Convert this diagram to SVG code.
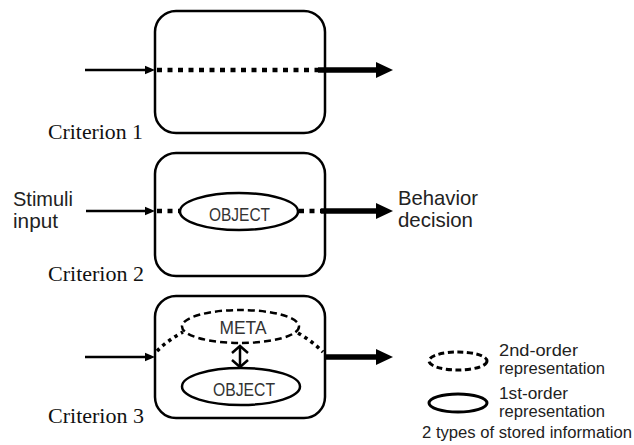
<svg xmlns="http://www.w3.org/2000/svg" width="634" height="445" viewBox="0 0 634 445">
  <style>
    .box { fill: #fff; stroke: #000; stroke-width: 2.5; }
    .ell { fill: #fff; stroke: #000; stroke-width: 2.5; }
    .ell-dash { fill: #fff; stroke: #000; stroke-width: 2.5; stroke-dasharray: 7 4; }
    .crit { font-family: "Liberation Serif", "Times New Roman", serif; font-size: 22px; fill: #111; }
    .lab { font-family: "Liberation Sans", Arial, sans-serif; font-size: 21px; fill: #222; }
    .inner { font-family: "Liberation Sans", Arial, sans-serif; font-size: 18px; fill: #333; }
    .leg { font-family: "Liberation Sans", Arial, sans-serif; font-size: 16px; fill: #222; }
    .thin { stroke: #000; stroke-width: 2.5; fill: none; }
    .thick { stroke: #000; stroke-width: 5.5; fill: none; }
    .dots { stroke: #000; stroke-width: 4.5; fill: none; stroke-dasharray: 5 5.5; }
    .dots-s { stroke: #000; stroke-width: 3.5; fill: none; stroke-dasharray: 3.5 4; }
  </style>
  <defs>
    <marker id="headThin" markerUnits="userSpaceOnUse" markerWidth="10" markerHeight="10" refX="6" refY="5" orient="auto">
      <path d="M0,0.8 L10,5 L0,9.2 z" fill="#000"/>
    </marker>
    <marker id="headThick" markerUnits="userSpaceOnUse" markerWidth="17" markerHeight="17" refX="8" refY="8.5" orient="auto">
      <path d="M0,0.5 L17,8.5 L0,16.5 z" fill="#000"/>
    </marker>
    <marker id="chev" markerUnits="userSpaceOnUse" markerWidth="20" markerHeight="20" refX="10" refY="10" orient="auto-start-reverse">
      <path d="M3,2 L10,10 L3,18" fill="none" stroke="#000" stroke-width="2.5"/>
    </marker>
  </defs>

  <!-- Criterion 1 -->
  <g id="criterion1">
    <rect class="box" x="155" y="11" width="170" height="122" rx="21"/>
    <text class="crit" x="48" y="139" textLength="95" lengthAdjust="spacingAndGlyphs">Criterion 1</text>
  </g>

  <!-- Criterion 2 -->
  <g id="criterion2">
    <rect class="box" x="155" y="153" width="170" height="123" rx="21"/>
    <text class="crit" x="48" y="281" textLength="96" lengthAdjust="spacingAndGlyphs">Criterion 2</text>
  </g>
  <g id="object2">
    <ellipse class="ell" cx="239" cy="211.5" rx="59" ry="18.5"/>
    <text class="inner" x="239.5" y="221" text-anchor="middle" textLength="61" lengthAdjust="spacingAndGlyphs">OBJECT</text>
  </g>

  <!-- Criterion 3 -->
  <g id="criterion3">
    <rect class="box" x="155" y="296" width="170" height="122" rx="21"/>
    <text class="crit" x="48" y="423" textLength="96" lengthAdjust="spacingAndGlyphs">Criterion 3</text>
  </g>
  <g id="meta3">
    <ellipse class="ell-dash" cx="240.5" cy="326.5" rx="58.5" ry="16.5"/>
    <text class="inner" x="243" y="334" text-anchor="middle" textLength="47" lengthAdjust="spacingAndGlyphs">META</text>
  </g>
  <g id="object3">
    <ellipse class="ell" cx="241" cy="386.5" rx="59" ry="18.5"/>
    <text class="inner" x="244" y="396" text-anchor="middle" textLength="62" lengthAdjust="spacingAndGlyphs">OBJECT</text>
  </g>

  <!-- side labels -->
  <g id="stimuli">
    <text class="lab" x="13" y="206" textLength="60" lengthAdjust="spacingAndGlyphs">Stimuli</text>
    <text class="lab" x="13" y="228" textLength="45" lengthAdjust="spacingAndGlyphs">input</text>
  </g>
  <g id="behavior">
    <text class="lab" x="398" y="205" textLength="80" lengthAdjust="spacingAndGlyphs">Behavior</text>
    <text class="lab" x="398" y="227" textLength="75" lengthAdjust="spacingAndGlyphs">decision</text>
  </g>

  <!-- legend -->
  <g id="legend">
    <ellipse cx="458" cy="361" rx="29" ry="9" fill="none" stroke="#000" stroke-width="3" stroke-dasharray="6 3.5"/>
    <ellipse cx="458" cy="403" rx="29" ry="9" fill="none" stroke="#000" stroke-width="3"/>
    <text class="leg" x="499" y="356" textLength="79" lengthAdjust="spacingAndGlyphs">2nd-order</text>
    <text class="leg" x="499" y="374" textLength="106" lengthAdjust="spacingAndGlyphs">representation</text>
    <text class="leg" x="499" y="399" textLength="69" lengthAdjust="spacingAndGlyphs">1st-order</text>
    <text class="leg" x="499" y="417" textLength="106" lengthAdjust="spacingAndGlyphs">representation</text>
    <text class="leg" x="422" y="438" textLength="210" lengthAdjust="spacingAndGlyphs">2 types of stored information</text>
  </g>

  <!-- connectors -->
  <g id="connectors">
    <!-- row 1 -->
    <line class="thin" x1="85" y1="70" x2="151" y2="70" marker-end="url(#headThin)"/>
    <line class="dots" x1="157" y1="70" x2="318" y2="70"/>
    <line class="thick" x1="318" y1="70" x2="384" y2="70" marker-end="url(#headThick)"/>
    <!-- row 2 -->
    <line class="thin" x1="86" y1="211" x2="151" y2="211" marker-end="url(#headThin)"/>
    <line class="dots" x1="157" y1="211" x2="180" y2="211"/>
    <line class="dots" x1="299" y1="211" x2="321" y2="211"/>
    <line class="thick" x1="321" y1="211" x2="384" y2="211" marker-end="url(#headThick)"/>
    <!-- row 3 -->
    <line class="thin" x1="85" y1="357" x2="151" y2="357" marker-end="url(#headThin)"/>
    <path class="dots-s" d="M157,351 Q168,340 183,332"/>
    <path class="dots-s" d="M298,333 Q312,341 323,352"/>
    <line class="thick" x1="324" y1="357" x2="384" y2="357" marker-end="url(#headThick)"/>
    <!-- META <-> OBJECT -->
    <line class="thin" x1="240" y1="346" x2="240" y2="367" marker-start="url(#chev)" marker-end="url(#chev)"/>
  </g>
</svg>
